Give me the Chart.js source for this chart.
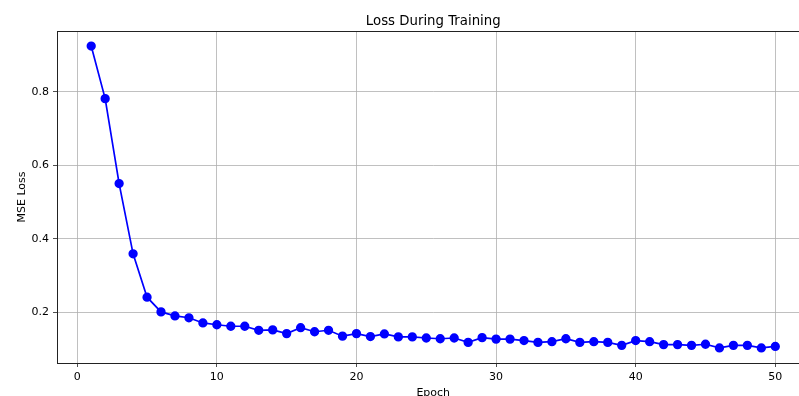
<!DOCTYPE html>
<html>
<head>
<meta charset="utf-8">
<script src="https://cdn.jsdelivr.net/npm/chart.js@4.4.1/dist/chart.umd.min.js"></script>
<style>
  html, body { margin: 0; padding: 0; background: #fff; overflow: hidden; }
  #wrap { width: 799px; height: 396px; overflow: hidden; position: relative; }
  #box { width: 815px; height: 400px; position: absolute; left: 0; top: 0; }
</style>
</head>
<body>
<div id="wrap"><div id="box"><canvas id="lossChart"></canvas></div></div>
<script>
// DADOS
const epochs = [1, 2, 3, 4, 5, 6, 7, 8, 9, 10, 11, 12, 13, 14, 15, 16, 17, 18, 19, 20,
  21, 22, 23, 24, 25, 26, 27, 28, 29, 30, 31, 32, 33, 34, 35, 36, 37, 38, 39, 40,
  41, 42, 43, 44, 45, 46, 47, 48, 49, 50];
const lossValues = [0.924, 0.781, 0.550, 0.359, 0.241, 0.201, 0.190, 0.185, 0.171, 0.166,
  0.162, 0.162, 0.151, 0.152, 0.142, 0.158, 0.147, 0.151, 0.135, 0.142,
  0.134, 0.141, 0.133, 0.133, 0.130, 0.128, 0.130, 0.118, 0.131, 0.127,
  0.127, 0.123, 0.118, 0.120, 0.128, 0.118, 0.120, 0.118, 0.110, 0.123,
  0.120, 0.112, 0.112, 0.110, 0.113, 0.103, 0.110, 0.110, 0.103, 0.107];
const xTicks = [0, 10, 20, 30, 40, 50];
const yTicks = [0.2, 0.4, 0.6, 0.8];
const chartTitle = "Loss During Training";

const font = "'DejaVu Sans', sans-serif";

// moldura dos eixos + título centrado na área do gráfico
const frame = {
  id: "frame",
  afterDraw(chart) {
    const { ctx, chartArea: a } = chart;
    ctx.save();
    ctx.strokeStyle = "#222";
    ctx.lineWidth = 1;
    ctx.strokeRect(a.left + 0.5, a.top + 0.5, a.right - a.left, a.bottom - a.top);
    ctx.fillStyle = "#000";
    ctx.font = "13.3px " + font;
    ctx.textAlign = "center";
    ctx.textBaseline = "alphabetic";
    ctx.fillText(chartTitle, (a.left + a.right) / 2, a.top - 6);
    ctx.restore();
  }
};

new Chart(document.getElementById("lossChart"), {
  type: "line",
  data: {
    datasets: [{
      data: epochs.map((e, i) => ({ x: e, y: lossValues[i] })),
      borderColor: "#0000ff",
      backgroundColor: "#0000ff",
      borderWidth: 1.7,
      pointRadius: 3.8,
      pointHoverRadius: 3.8,
      tension: 0
    }]
  },
  options: {
    responsive: true,
    maintainAspectRatio: false,
    animation: false,
    layout: { padding: { right: 1, top: 31, left: 0, bottom: 0 } },
    plugins: {
      legend: { display: false },
      tooltip: { enabled: false },
      title: { display: false }
    },
    scales: {
      x: {
        type: "linear",
        min: -1.45,
        max: 52.45,
        afterBuildTicks: s => { s.ticks = xTicks.map(v => ({ value: v })); },
        afterFit: s => { s.height = 37; },
        grid: { color: "#b0b0b0", lineWidth: 0.8, tickColor: "#222", tickLength: 4, drawOnChartArea: true },
        border: { color: "#222" },
        ticks: { color: "#000", font: { family: font, size: 11 }, padding: 4, maxRotation: 0 },
        title: { display: true, text: "Epoch", color: "#000", font: { family: font, size: 11 }, padding: { top: 4, bottom: 0 } }
      },
      y: {
        min: 0.062,
        max: 0.965,
        afterBuildTicks: s => { s.ticks = yTicks.map(v => ({ value: v })); },
        afterFit: s => { s.width = 57; },
        grid: { color: "#b0b0b0", lineWidth: 0.8, tickColor: "#222", tickLength: 4 },
        border: { color: "#222" },
        ticks: { color: "#000", font: { family: font, size: 11 }, padding: 4, callback: v => v.toFixed(1) },
        title: { display: true, text: "MSE Loss", color: "#000", font: { family: font, size: 11 }, padding: { top: 16, bottom: 0 } }
      }
    }
  },
  plugins: [frame]
});
</script>
</body>
</html>
